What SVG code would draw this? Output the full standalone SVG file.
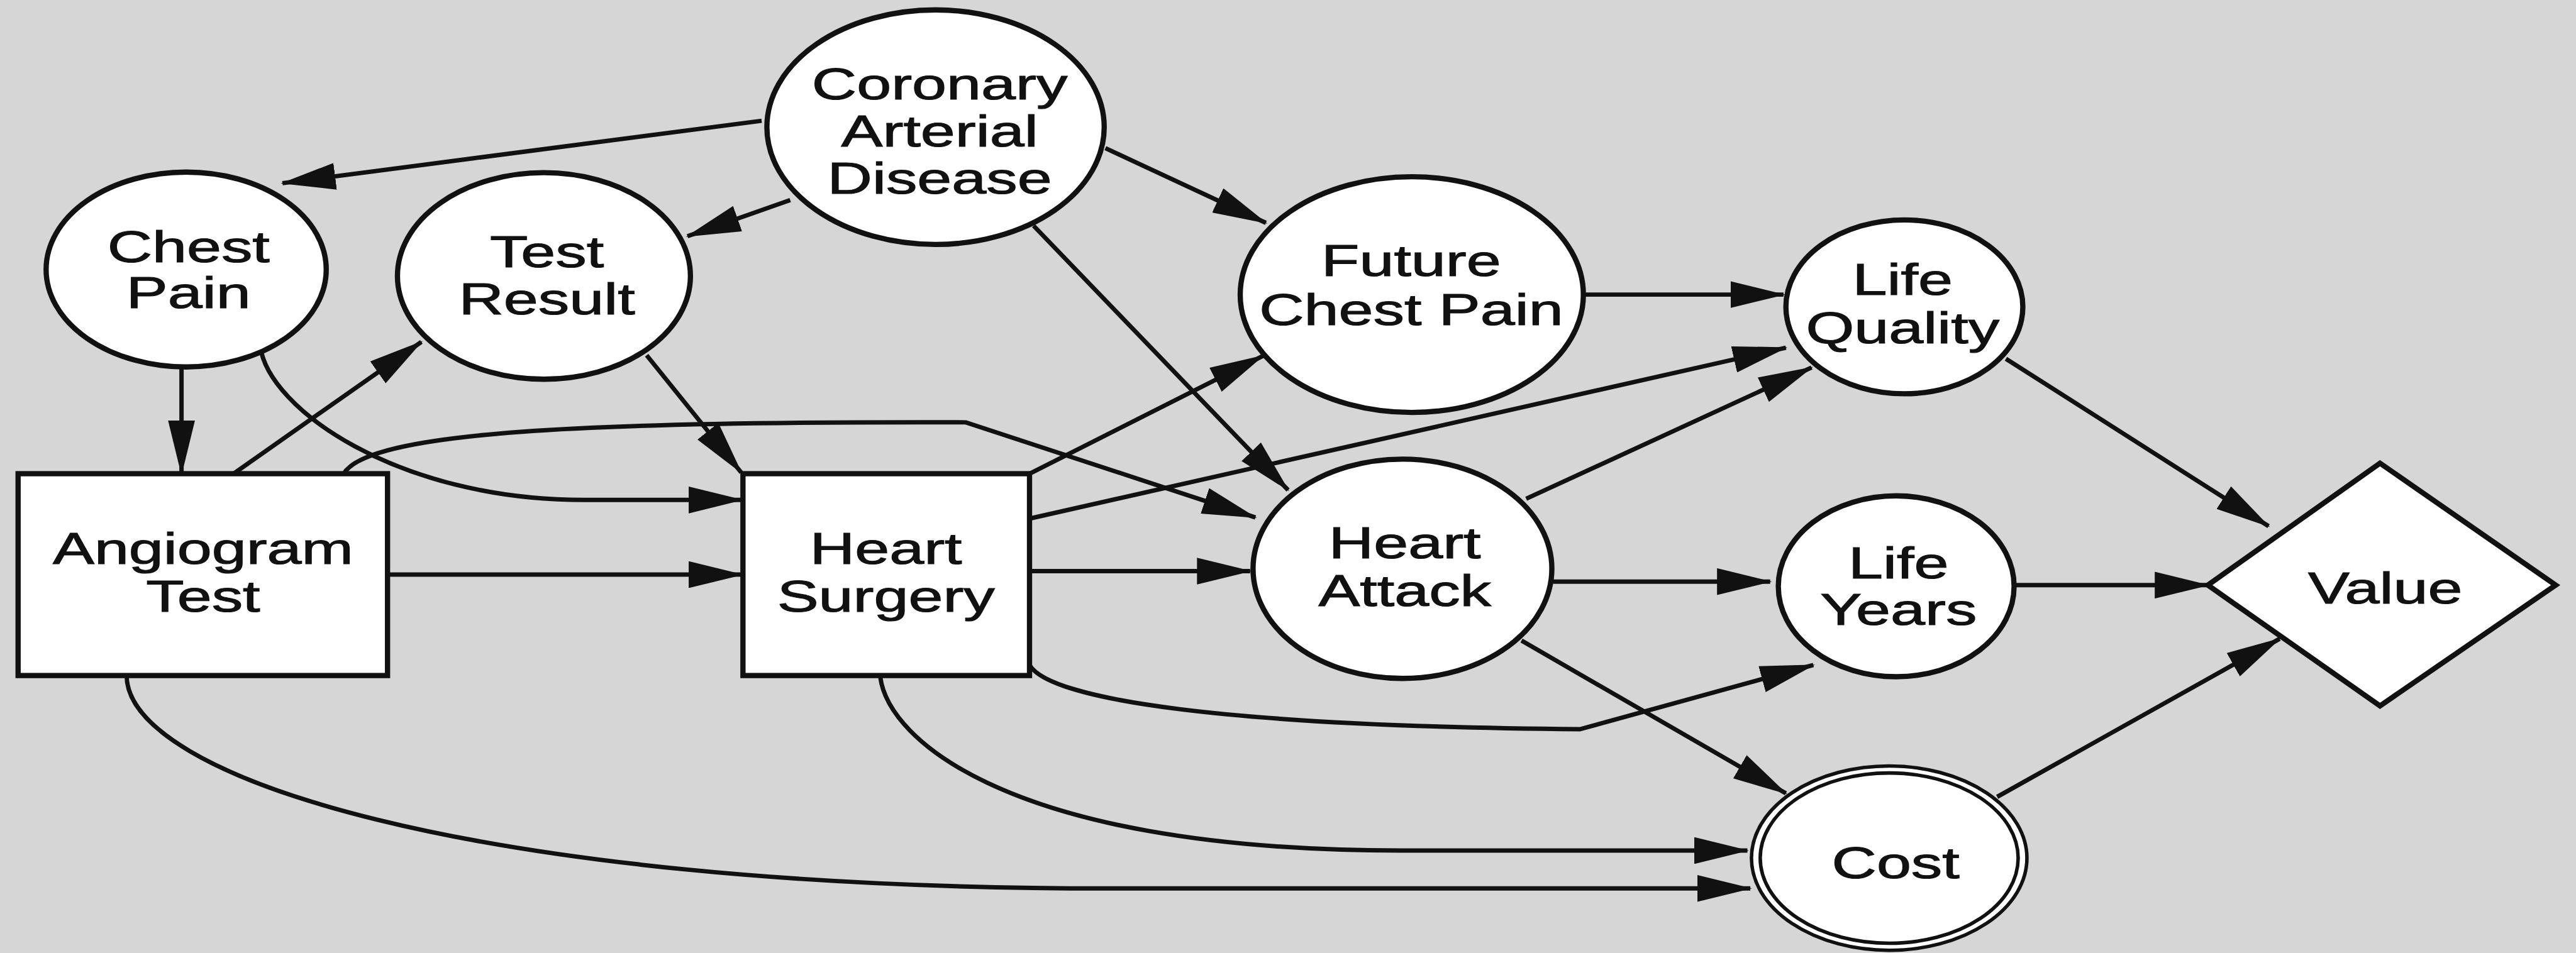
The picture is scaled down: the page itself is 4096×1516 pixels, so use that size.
<svg xmlns="http://www.w3.org/2000/svg" width="4096" height="1516" viewBox="0 0 4096 1516">
<style>
.bg{fill:#d6d6d6}
.node{fill:#ffffff;stroke:#111111;stroke-width:9}
.thin{fill:#ffffff;stroke:#111111;stroke-width:6}
.edge{fill:none;stroke:#111111;stroke-width:7.5;marker-end:url(#arr)}
.lbl{font-family:"Liberation Sans",Arial,Helvetica,sans-serif;font-size:75px;fill:#111111;stroke:#111111;stroke-width:1.2;text-anchor:middle}
</style>
<defs>
<marker id="arr" markerUnits="userSpaceOnUse" markerWidth="94" markerHeight="46" viewBox="0 0 94 46" refX="91" refY="23" orient="auto">
<path d="M0,0 L94,23 L0,46 z" fill="#111111"/>
</marker>
</defs>
<rect class="bg" x="0" y="0" width="4096" height="1516"/>
<g transform="scale(0.928)">
<g id="connectors">
<path class="edge" d="M1305,207 L484,314"/>
<path class="edge" d="M1354,343 L1178,405"/>
<path class="edge" d="M1894,254 L2169,382"/>
<path class="edge" d="M1771,387 L2207,840"/>
<path class="edge" d="M311,630 L311,812"/>
<path class="edge" d="M446,594 C460,700 680,857 1000,857 L1271,857"/>
<path class="edge" d="M400,812 L722,586"/>
<path class="edge" d="M589,812 C630,740 1000,722 1655,724 L2151,887"/>
<path class="edge" d="M664,985 L1271,985"/>
<path class="edge" d="M217,1158 C217,1330 800,1523 1900,1523 L2999,1523"/>
<path class="edge" d="M1508,1152 C1508,1250 1700,1458 2400,1458 L2994,1458"/>
<path class="edge" d="M1764,812 L2164,610"/>
<path class="edge" d="M1764,889 L3060,596"/>
<path class="edge" d="M1764,979 L2142,979"/>
<path class="edge" d="M1764,1140 C1800,1200 2100,1245 2707,1250 L3107,1140"/>
<path class="edge" d="M1108,609 L1270,810"/>
<path class="edge" d="M2715,505 L3056,505"/>
<path class="edge" d="M2615,855 L3104,630"/>
<path class="edge" d="M2661,997 L3033,997"/>
<path class="edge" d="M2607,1098 L3060,1360"/>
<path class="edge" d="M3437,615 L3887,902"/>
<path class="edge" d="M3452,1003 L3783,1003"/>
<path class="edge" d="M3422,1366 L3906,1095"/>
</g>
<g id="coronary">
<ellipse class="node" cx="1603" cy="218" rx="289" ry="201"/>
<text class="lbl" transform="translate(1610,0) scale(1.42,1)"><tspan x="0" y="170">Coronary</tspan><tspan x="0" y="251">Arterial</tspan><tspan x="0" y="332">Disease</tspan></text>
</g>
<g id="chest-pain">
<ellipse class="node" cx="319" cy="462" rx="240" ry="167"/>
<text class="lbl" transform="translate(323,0) scale(1.42,1)"><tspan x="0" y="449">Chest</tspan><tspan x="0" y="528">Pain</tspan></text>
</g>
<g id="test-result">
<ellipse class="node" cx="932" cy="473" rx="251" ry="177"/>
<text class="lbl" transform="translate(937,0) scale(1.42,1)"><tspan x="0" y="458">Test</tspan><tspan x="0" y="539">Result</tspan></text>
</g>
<g id="future-chest-pain">
<ellipse class="node" cx="2419" cy="505" rx="294" ry="202"/>
<text class="lbl" transform="translate(2418,0) scale(1.42,1)"><tspan x="0" y="473">Future</tspan><tspan x="0" y="557">Chest Pain</tspan></text>
</g>
<g id="life-quality">
<ellipse class="node" cx="3263" cy="526" rx="203" ry="149"/>
<text class="lbl" transform="translate(3260,0) scale(1.42,1)"><tspan x="0" y="505">Life</tspan><tspan x="0" y="588">Quality</tspan></text>
</g>
<g id="angiogram-test">
<rect class="node" x="31" y="812" width="633" height="346"/>
<text class="lbl" transform="translate(348,0) scale(1.42,1)"><tspan x="0" y="967">Angiogram</tspan><tspan x="0" y="1049">Test</tspan></text>
</g>
<g id="heart-surgery">
<rect class="node" x="1273" y="812" width="491" height="346"/>
<text class="lbl" transform="translate(1518,0) scale(1.42,1)"><tspan x="0" y="967">Heart</tspan><tspan x="0" y="1049">Surgery</tspan></text>
</g>
<g id="heart-attack">
<ellipse class="node" cx="2403" cy="975" rx="256" ry="188"/>
<text class="lbl" transform="translate(2407,0) scale(1.42,1)"><tspan x="0" y="957">Heart</tspan><tspan x="0" y="1039">Attack</tspan></text>
</g>
<g id="life-years">
<ellipse class="node" cx="3249" cy="1005" rx="202" ry="155"/>
<text class="lbl" transform="translate(3253,0) scale(1.42,1)"><tspan x="0" y="991">Life</tspan><tspan x="0" y="1071">Years</tspan></text>
</g>
<g id="cost">
<ellipse class="thin" cx="3237" cy="1471" rx="236" ry="158"/>
<ellipse class="thin" cx="3237" cy="1471" rx="221" ry="146"/>
<text class="lbl" transform="translate(3248,0) scale(1.42,1)"><tspan x="0" y="1505">Cost</tspan></text>
</g>
<g id="value">
<polygon class="node" points="4078,794 4379,1003 4078,1210 3783,1003"/>
<text class="lbl" transform="translate(4087,0) scale(1.42,1)"><tspan x="0" y="1034">Value</tspan></text>
</g>
</g>
</svg>
